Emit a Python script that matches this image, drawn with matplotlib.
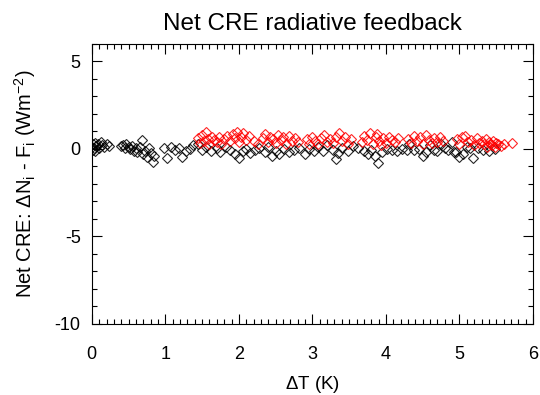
import matplotlib
matplotlib.use("Agg")
import matplotlib.pyplot as plt
from matplotlib.ticker import MultipleLocator

plt.rcParams['font.family'] = ['Liberation Sans', 'DejaVu Sans']
plt.rcParams['mathtext.fontset'] = 'custom'
plt.rcParams['mathtext.rm'] = 'Liberation Sans'
plt.rcParams['mathtext.it'] = 'Liberation Sans'
plt.rcParams['axes.unicode_minus'] = False

black_x = [0.00, 0.01, 0.02, 0.03, 0.04, 0.05, 0.06, 0.08, 0.10, 0.12, 0.14, 0.16, 0.20, 0.24,
           0.40, 0.43, 0.45, 0.47, 0.50, 0.52, 0.55, 0.57, 0.60, 0.62, 0.65, 0.68, 0.70, 0.73, 0.75,
           0.78, 0.80, 0.83, 0.85, 0.98, 1.02, 1.08, 1.13, 1.18, 1.22, 1.28, 1.33, 1.38, 1.45, 1.50,
           1.55, 1.62, 1.70, 1.75, 1.82, 1.88, 1.95, 2.00, 2.05, 2.10, 2.15, 2.22, 2.28, 2.35, 2.40,
           2.45, 2.50, 2.55, 2.62, 2.68, 2.75, 2.82, 2.90, 2.95, 3.02, 3.08, 3.15, 3.20, 3.28, 3.32,
           3.35, 3.40, 3.48, 3.55, 3.62, 3.70, 3.75, 3.80, 3.85, 3.89, 3.95, 4.02, 4.08, 4.15, 4.22,
           4.28, 4.32, 4.38, 4.45, 4.50, 4.55, 4.60, 4.65, 4.70, 4.75, 4.80, 4.85, 4.90, 4.92, 4.95,
           5.00, 5.05, 5.10, 5.15, 5.18, 5.25, 5.32, 5.40, 5.48]
black_y = [0.10, -0.05, 0.25, 0.05, 0.35, -0.10, 0.15, 0.30, 0.05, 0.40, 0.20, 0.10, 0.25, 0.15,
           0.15, 0.20, 0.05, 0.25, 0.10, 0.00, 0.15, -0.10, 0.05, -0.20, 0.10, 0.50, -0.30, -0.10, -0.45,
           0.05, -0.25, -0.75, -0.40, 0.05, -0.50, 0.10, -0.05, 0.05, -0.45, -0.10, 0.00, 0.20, 0.30, -0.05,
           0.10, -0.10, 0.05, -0.20, 0.10, -0.05, -0.30, -0.50, -0.15, 0.00, -0.25, -0.05, 0.05, -0.20, 0.10,
           -0.40, -0.10, -0.30, 0.00, -0.20, -0.05, 0.05, -0.30, 0.00, -0.10, 0.10, -0.15, 0.20, -0.05, -0.60,
           -0.25, 0.05, -0.15, 0.15, 0.05, -0.10, -0.30, -0.05, -0.40, -0.80, -0.20, 0.00, -0.05, -0.10, 0.00,
           -0.05, 0.30, -0.05, 0.00, -0.40, -0.20, 0.20, -0.05, -0.10, 0.30, 0.05, -0.05, 0.40, -0.20, -0.20,
           -0.45, -0.30, 0.10, 0.05, -0.50, 0.05, -0.05, -0.10, 0.00]

red_x = [1.44, 1.47, 1.50, 1.52, 1.55, 1.58, 1.60, 1.63, 1.66, 1.70, 1.73, 1.76, 1.80, 1.84, 1.88,
         1.92, 1.95, 1.98, 2.00, 2.03, 2.06, 2.10, 2.14, 2.20, 2.26, 2.33, 2.36, 2.40, 2.43, 2.46,
         2.50, 2.53, 2.57, 2.60, 2.64, 2.68, 2.72, 2.76, 2.80, 2.92, 2.96, 3.00, 3.04, 3.08, 3.12,
         3.16, 3.20, 3.24, 3.28, 3.32, 3.36, 3.40, 3.44, 3.48, 3.52, 3.67, 3.70, 3.74, 3.78, 3.82,
         3.86, 3.88, 3.90, 3.93, 3.96, 4.00, 4.04, 4.08, 4.12, 4.16, 4.30, 4.34, 4.38, 4.42, 4.46,
         4.50, 4.54, 4.58, 4.62, 4.66, 4.70, 4.74, 4.78, 4.97, 5.00, 5.04, 5.08, 5.12, 5.16, 5.20,
         5.24, 5.27, 5.30, 5.33, 5.36, 5.38, 5.40, 5.42, 5.44, 5.46, 5.48, 5.50, 5.53, 5.56, 5.60,
         5.71]
red_y = [0.60, 0.35, 0.80, 0.45, 0.95, 0.55, 0.30, 0.70, 0.50, 0.40, 0.65, 0.30, 0.55, 0.75, 0.45,
         0.85, 0.60, 0.95, 0.40, 0.70, 0.90, 0.50, 0.75, 0.45, 0.30, 0.60, 0.85, 0.40, 0.70, 0.55,
         0.35, 0.80, 0.50, 0.65, 0.30, 0.75, 0.45, 0.60, 0.40, 0.55, 0.30, 0.70, 0.45, 0.25, 0.60,
         0.80, 0.40, 0.55, 0.35, 0.65, 0.90, 0.45, 0.70, 0.30, 0.55, 0.40, 0.75, 0.50, 0.90, 0.30,
         0.65, 0.85, 0.45, 0.20, 0.60, 0.35, 0.70, 0.50, 0.40, 0.60, 0.55, 0.35, 0.75, 0.45, 0.65,
         0.30, 0.80, 0.50, 0.35, 0.60, 0.40, 0.70, 0.45, 0.55, 0.30, 0.65, 0.75, 0.40, 0.50, 0.20,
         0.60, 0.35, 0.45, 0.25, 0.55, 0.10, 0.40, 0.30, 0.20, 0.45, 0.10, 0.35, 0.25, 0.15, 0.30,
         0.35]

fig = plt.figure(figsize=(5.4, 3.95), dpi=100)
ax = fig.add_axes([0.170, 0.180, 0.817, 0.709])

ax.plot(black_x, black_y, linestyle='none', marker='D', markersize=5,
        markerfacecolor='none', markeredgecolor='black', markeredgewidth=0.8, alpha=0.85)
ax.plot(red_x, red_y, linestyle='none', marker='D', markersize=5,
        markerfacecolor='none', markeredgecolor='red', markeredgewidth=0.8, alpha=0.85)

ax.set_xlim(0, 6)
ax.set_ylim(-10, 6)
ax.xaxis.set_major_locator(MultipleLocator(1))
ax.xaxis.set_minor_locator(MultipleLocator(0.1))
ax.yaxis.set_major_locator(MultipleLocator(5))
ax.yaxis.set_minor_locator(MultipleLocator(1))
ax.tick_params(which='both', direction='in', top=True, right=True, labelsize=13, width=0.8)
ax.tick_params(which='major', length=7)
ax.tick_params(which='minor', length=3.5)
ax.tick_params(axis='x', which='major', pad=16)
ax.tick_params(axis='y', which='major', pad=8)
for s in ax.spines.values():
    s.set_linewidth(0.8)

ax.set_title('Net CRE radiative feedback', fontsize=17.5, pad=10)
ax.set_xlabel(r'$\Delta$T (K)', fontsize=13.5, labelpad=8)
ax.set_ylabel(r'Net CRE: $\Delta$N$_\mathrm{i}$ - F$_\mathrm{i}$ (Wm$^{-2}$)', fontsize=14.5, labelpad=12)

fig.savefig('out.png', dpi=100)
